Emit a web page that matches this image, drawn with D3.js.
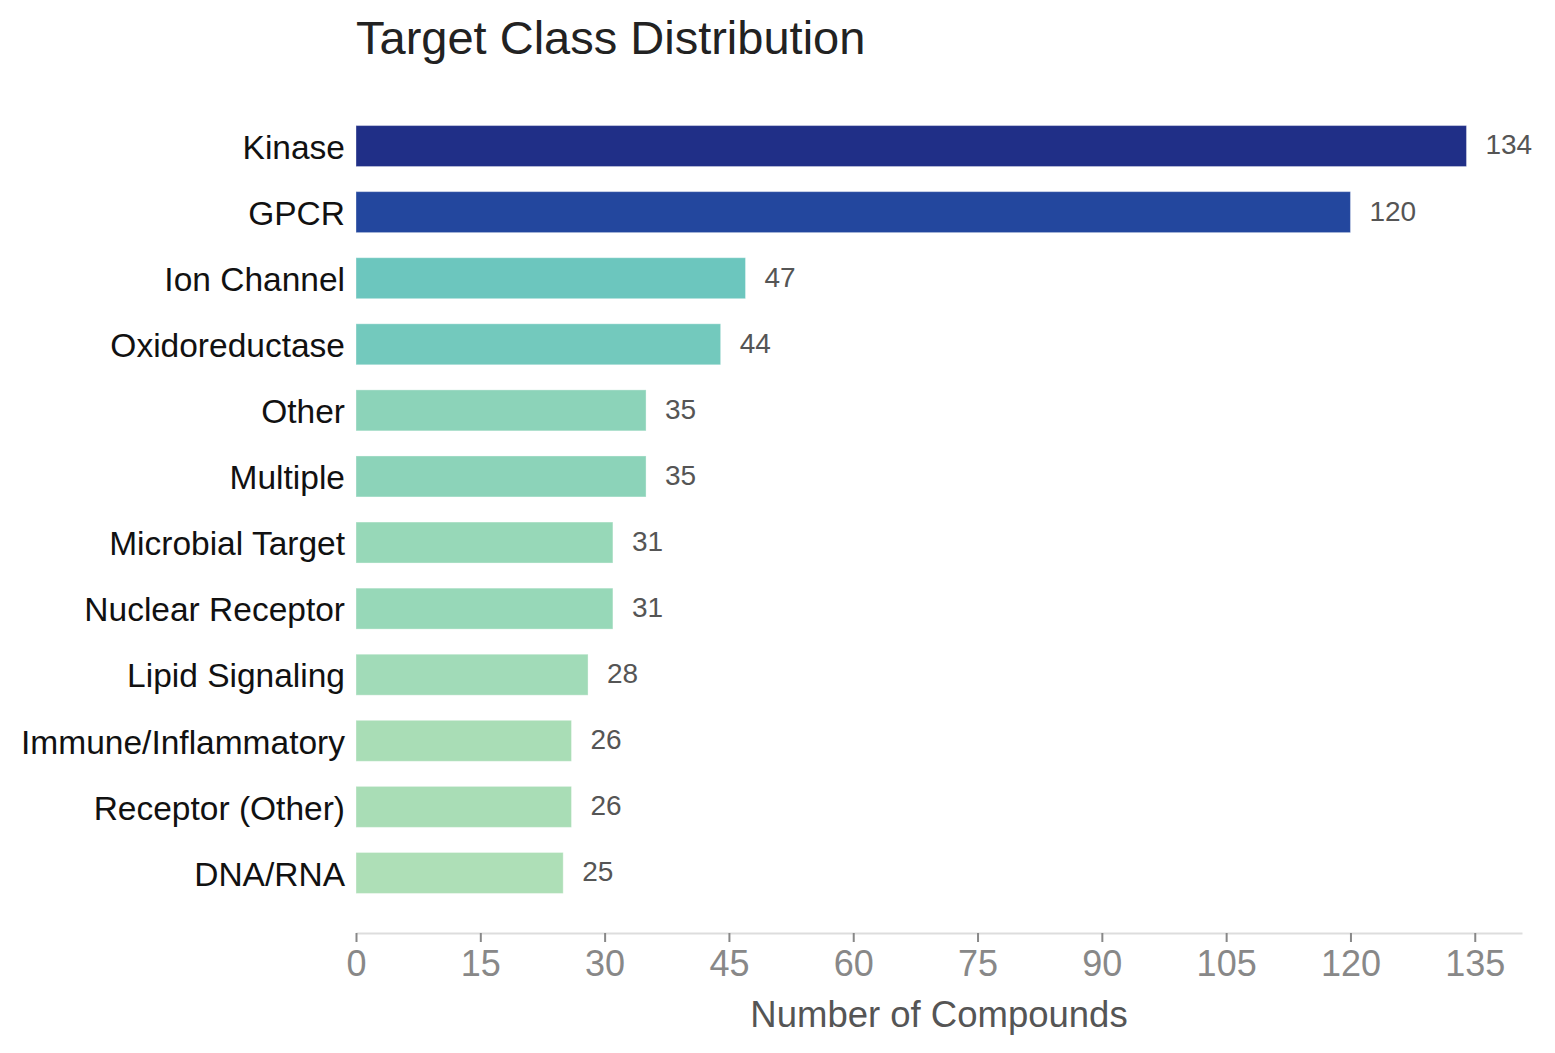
<!DOCTYPE html>
<html>
<head>
<meta charset="utf-8">
<script src="https://cdn.jsdelivr.net/npm/d3@7"></script>
<style>
  body { margin: 0; background: #fff; }
  svg { font-family: "Liberation Sans", Arial, Helvetica, sans-serif; }
</style>
</head>
<body>
<div id="chart"></div>
<script>
// Target class distribution - horizontal bars
const categories = ['Kinase', 'GPCR', 'Ion Channel', 'Oxidoreductase', 'Other', 'Multiple',
    'Microbial Target', 'Nuclear Receptor', 'Lipid Signaling', 'Immune/Inflammatory',
    'Receptor (Other)', 'DNA/RNA'];
const counts = [134, 120, 47, 44, 35, 35, 31, 31, 28, 26, 26, 25];
const barColors = ['#202f87', '#23479e', '#6cc6be', '#73c9bd', '#8cd3b9', '#8cd3b9',
    '#97d8b8', '#97d8b8', '#a1dbb8', '#a9ddb6', '#a9ddb6', '#aedfb7'];
const xTicks = [0, 15, 30, 45, 60, 75, 90, 105, 120, 135];

const width = 1555, height = 1053;
const margin = { top: 113, right: 33, bottom: 147, left: 356 };

const svg = d3.select('#chart').append('svg')
    .attr('width', width)
    .attr('height', height);

const xScale = d3.scaleLinear()
    .domain([0, d3.max(counts) * 1.05])
    .range([margin.left, width - margin.right]);

const yScale = d3.scaleBand()
    .domain(categories)
    .range([margin.top, height - margin.bottom])
    .paddingInner(0.38)
    .paddingOuter(0.19);

// Title
svg.append('text')
    .attr('x', margin.left)
    .attr('y', 54)
    .style('font-size', '47px')
    .style('fill', '#222')
    .text('Target Class Distribution');

// Bars
svg.selectAll('.bar')
    .data(categories)
    .enter().append('rect')
    .attr('class', 'bar')
    .attr('x', xScale(0))
    .attr('y', d => yScale(d))
    .attr('width', (d, i) => xScale(counts[i]) - xScale(0))
    .attr('height', yScale.bandwidth())
    .style('fill', (d, i) => barColors[i])
    .style('stroke', '#fff')
    .style('stroke-opacity', 0.35)
    .style('stroke-width', 1);

// Value labels
svg.selectAll('.value')
    .data(categories)
    .enter().append('text')
    .attr('class', 'value')
    .attr('x', (d, i) => xScale(counts[i]) + 19)
    .attr('y', d => yScale(d) + yScale.bandwidth() / 2)
    .attr('dy', '0.3em')
    .style('font-size', '28px')
    .style('fill', '#555')
    .text((d, i) => counts[i]);

// Category labels
svg.selectAll('.cat')
    .data(categories)
    .enter().append('text')
    .attr('class', 'cat')
    .attr('x', margin.left - 11)
    .attr('y', d => yScale(d) + yScale.bandwidth() / 2)
    .attr('dy', '0.38em')
    .style('text-anchor', 'end')
    .style('font-size', '33.5px')
    .style('fill', '#111')
    .text(d => d);

// X axis
const axisY = 933;
const xAxis = svg.append('g')
    .attr('transform', `translate(0,${axisY})`)
    .call(d3.axisBottom(xScale).tickValues(xTicks).tickSize(9).tickPadding(8).tickSizeOuter(0));

xAxis.select('.domain')
    .style('stroke', '#ddd')
    .style('stroke-width', 2);
xAxis.selectAll('.tick line')
    .style('stroke', '#888')
    .style('stroke-width', 2);
xAxis.selectAll('.tick text')
    .style('font-size', '36px')
    .style('fill', '#888')
    .style('font-family', '"Liberation Sans", Arial, sans-serif');

// Axis title
svg.append('text')
    .attr('x', (xScale.range()[0] + xScale.range()[1]) / 2)
    .attr('y', 1027)
    .style('text-anchor', 'middle')
    .style('font-size', '36.5px')
    .style('fill', '#555')
    .text('Number of Compounds');
</script>
</body>
</html>
